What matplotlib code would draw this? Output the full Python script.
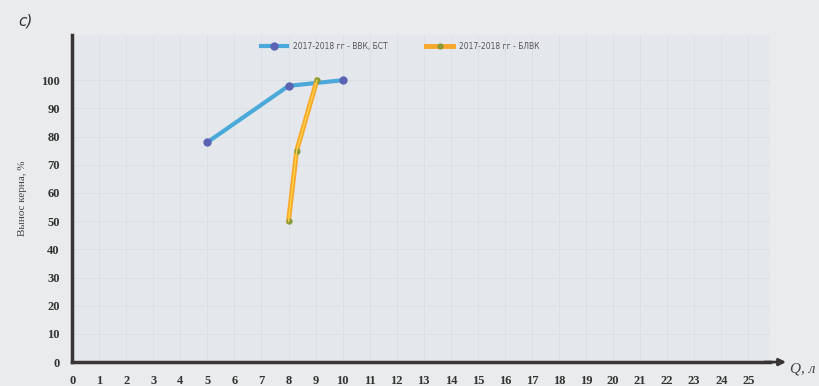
import matplotlib.pyplot as plt

x_blue = [5, 8, 10]
y_blue = [78, 98, 100]
x_orange = [8, 8.3, 9.05]
y_orange = [50, 75, 100]

label_blue = '2017-2018 гг - ВВК, БСТ'
label_orange = '2017-2018 гг - БЛВК'
x_ticks = list(range(0, 26))
y_ticks = list(range(0, 101, 10))

paper = '#e9ebec'

fig = plt.figure(figsize=(8.2, 3.86), dpi=100, facecolor=paper)
ax = fig.add_axes([0.088, 0.062, 0.851, 0.847])
ax.set_facecolor('#e4e8ec')

ax.plot(x_blue, y_blue, color='#4aa9d9', lw=3, marker='o', ms=5,
        mfc='#5b63b5', mec='#5b63b5', label=label_blue, zorder=3)
ax.plot(x_orange, y_orange, color='#f7a72a', lw=3.5, marker='o', ms=3.5,
        mfc='#8a9a3a', mec='#8a9a3a', label=label_orange, zorder=3)
ax.plot(x_orange, y_orange, color='#ffd24a', lw=1, zorder=3)

ax.set_xlim(0, 25.8)
ax.set_ylim(0, 116)
ax.set_xticks(x_ticks)
ax.set_yticks(y_ticks)
ax.tick_params(length=0, labelsize=9, pad=9, colors='#333333')
for t in ax.get_xticklabels() + ax.get_yticklabels():
    t.set_fontfamily('Liberation Serif')
    t.set_fontweight('bold')

ax.grid(True, color='#dce0e4', lw=0.7)
ax.set_axisbelow(True)

for s in ['top', 'right']:
    ax.spines[s].set_visible(False)
for s in ['left', 'bottom']:
    ax.spines[s].set_linewidth(2.5)
    ax.spines[s].set_color('#3a3435')

ax.annotate('', xy=(26.5, 0), xytext=(25.5, 0), xycoords='data',
            arrowprops=dict(arrowstyle='-|>', color='#3a3435', lw=2),
            annotation_clip=False)

ax.set_ylabel('Вынос керна, %', fontfamily='Liberation Serif', fontsize=8,
              color='#444444', labelpad=10)

leg = ax.legend(loc='upper center', bbox_to_anchor=(0.47, 1.0), ncol=2,
                frameon=False, fontsize=5.5, handlelength=3.5, columnspacing=5,
                labelcolor='#555555')

fig.text(0.022, 0.935, 'c)', fontsize=11, style='italic', color='#333333')
fig.text(0.963, 0.035, 'Q, л', fontsize=11, style='italic',
         fontfamily='Liberation Serif', color='#444444')

fig.savefig('out.png', dpi=100, facecolor=paper)
